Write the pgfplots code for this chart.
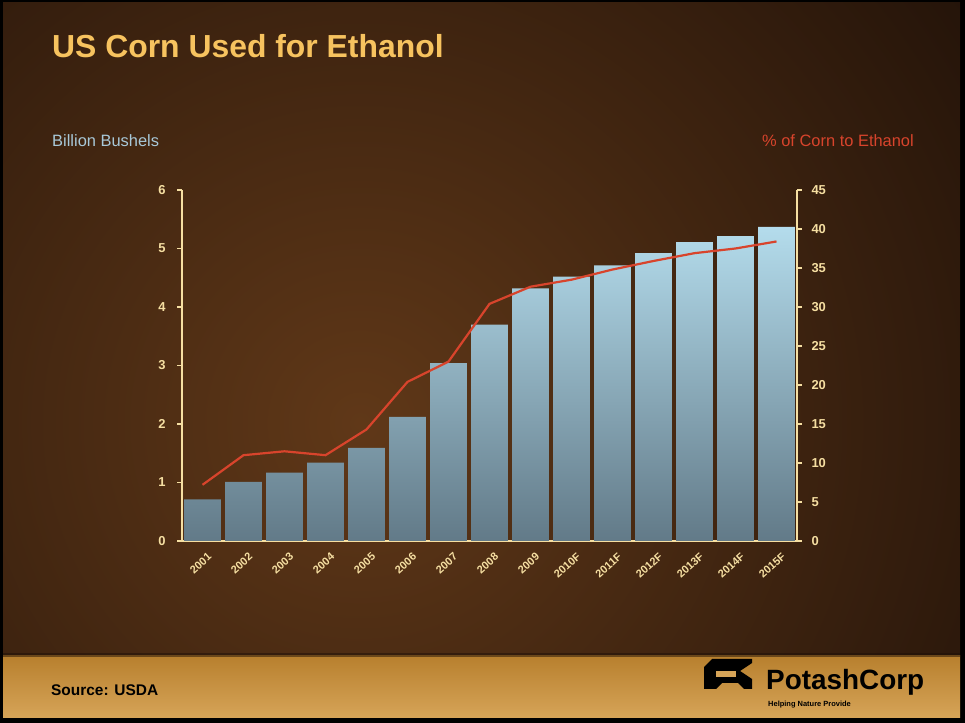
\documentclass[border=0pt]{standalone}
\usepackage{pgfplots}
\pgfplotsset{compat=1.18}
\usepackage{fontspec}
\setmainfont{Liberation Sans}
\definecolor{axiscol}{HTML}{F6DFA2}
\definecolor{titlecol}{HTML}{F7C35F}
\definecolor{bluelab}{HTML}{A8C8D8}
\definecolor{redcol}{HTML}{D8442C}
\definecolor{barTop}{HTML}{B4DCEC}
\definecolor{barBot}{HTML}{627A88}
\definecolor{brownD}{HTML}{1E1008}
\definecolor{brownM}{HTML}{3C210F}
\definecolor{brownL}{HTML}{603818}
\definecolor{tanA}{HTML}{B8802E}
\definecolor{tanB}{HTML}{D6A458}

\pgfplotstableread{
x val
0 0.71
1 1.01
2 1.17
3 1.34
4 1.59
5 2.12
6 3.04
7 3.70
8 4.32
9 4.52
10 4.71
11 4.92
12 5.11
13 5.21
14 5.37
}\bushels

\pgfplotstableread{
x pct
0 7.2
1 11.0
2 11.5
3 11.0
4 14.3
5 20.4
6 23.0
7 30.4
8 32.6
9 33.5
10 34.8
11 35.9
12 36.9
13 37.5
14 38.4
}\percent

\begin{document}
\begin{tikzpicture}[x=1bp,y=1bp]
% background
\fill[black] (0,0) rectangle (965,723);
\fill[brownM] (3,5) rectangle (960,720);
\begin{scope}
\clip (3,5) rectangle (960,720);
\shade[inner color=brownL, outer color=brownD] (360,300) circle (820);
% bottom tan band
\shade[top color=tanA, bottom color=tanB] (3,5) rectangle (960,67);
\fill[brownD, opacity=0.5] (3,66) rectangle (960,70);
\end{scope}

% texts
\node[anchor=base west, inner sep=0, text=titlecol, font=\bfseries\fontsize{32}{38}\selectfont] at (52,665) {US Corn Used for Ethanol};
\node[anchor=base west, inner sep=0, text=bluelab, font=\fontsize{16.5}{19}\selectfont] at (52,576) {Billion Bushels};
\node[anchor=base east, inner sep=0, text=redcol, font=\fontsize{16.5}{19}\selectfont] at (914,576) {\% of Corn to Ethanol};
\node[anchor=base west, inner sep=0, text=black, font=\bfseries\fontsize{15.5}{18}\selectfont] at (51,27) {Source: USDA};
% logo
\fill[black] (704,34) -- (716,34) -- (722,40) -- (738,40) -- (744,34) -- (752,34) -- (752,44) -- (740,52) -- (752,60) -- (752,64) -- (712,64) -- (704,56) -- cycle;
\fill[tanB] (716,46) rectangle (736,52);
\node[anchor=base west, inner sep=0, text=black, font=\bfseries\fontsize{28}{32}\selectfont] at (766,33) {PotashCorp};
\node[anchor=base west, inner sep=0, text=black, font=\bfseries\fontsize{7.5}{9}\selectfont] at (768,16) {Helping Nature Provide};

\begin{axis}[
  at={(182bp,182bp)}, anchor=south west,
  width=615bp, height=351bp, scale only axis,
  xmin=-0.5, xmax=14.5, ymin=0, ymax=6,
  axis x line*=bottom, axis y line*=left,
  axis line style={draw=axiscol, line width=2.2bp, -},
  ytick={0,1,2,3,4,5,6},
  xtick=data,
  xticklabels={2001,2002,2003,2004,2005,2006,2007,2008,2009,2010F,2011F,2012F,2013F,2014F,2015F},
  x tick style={draw=none},
  y tick style={draw=axiscol, line width=1.8bp},
  major tick length=5bp, tick align=outside,
  ticklabel style={text=axiscol, font=\bfseries\fontsize{13}{15}\selectfont},
  /pgf/number format/assume math mode=true,
  xticklabel style={rotate=42, anchor=north east, inner sep=0.5bp, yshift=-7bp, font=\bfseries\fontsize{11}{13}\selectfont},
  yticklabel style={xshift=-8bp},
  clip=false,
]
\addplot[ybar, bar width=0.9, bar shift=0, draw=none, top color=barTop, bottom color=barBot] table[x=x, y=val] {\bushels};
\end{axis}

\begin{axis}[
  at={(182bp,182bp)}, anchor=south west,
  width=615bp, height=351bp, scale only axis,
  xmin=-0.5, xmax=14.5, ymin=0, ymax=45,
  axis x line=none, axis y line*=right,
  axis line style={draw=axiscol, line width=2.2bp, -},
  ytick={0,5,...,45},
  y tick style={draw=axiscol, line width=1.8bp},
  major tick length=5bp, tick align=outside,
  ticklabel style={text=axiscol, font=\bfseries\fontsize{13}{15}\selectfont},
  /pgf/number format/assume math mode=true,
  yticklabel style={xshift=6bp},
  clip=false,
]
\addplot[redcol, line width=2.2bp, mark=none] table[x=x, y=pct] {\percent};
\end{axis}
\end{tikzpicture}
\end{document}
